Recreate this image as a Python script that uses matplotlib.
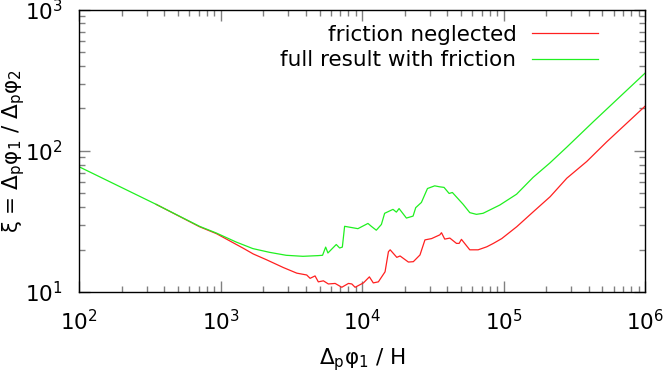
import matplotlib
matplotlib.use('Agg')
import matplotlib.pyplot as plt
from matplotlib.ticker import LogLocator, NullFormatter

# friction neglected (red)
red_x = [349, 708, 933, 1445, 1698, 2113, 2773, 3451, 4055, 4285, 4645, 4898, 5321,
         5768, 6442, 7178, 8000, 8453, 8913, 10210, 11250, 11990, 13020, 14520, 15340,
         15780, 17580, 18540, 21230, 23010, 25640, 27800, 30970, 35400, 36390, 38370,
         41690, 46450, 48500, 50350, 57680, 66070, 76030, 84720, 97050, 123900, 162600,
         213300, 280000, 387000, 537000, 1000000]
red_y = [41.8, 29.0, 25.9, 20.4, 18.6, 16.9, 14.9, 13.6, 13.2, 12.5, 13.0, 11.8, 12.0,
         11.4, 11.5, 10.8, 11.5, 11.4, 10.8, 11.6, 12.8, 11.6, 11.8, 13.9, 19.3,
         19.9, 17.6, 18.0, 16.3, 16.4, 18.3, 23.4, 23.9, 25.4, 26.3, 23.7,
         24.1, 22.1, 22.1, 23.6, 19.9, 19.9, 20.9, 22.1, 23.9, 29.0, 37.1,
         47.3, 64.0, 84.0, 116.0, 207.0]

# full result with friction (green)
green_x = [100, 349, 708, 929, 1285, 1687, 2213, 2904, 3811, 4864, 5248, 5521, 5728,
           6561, 6934, 7244, 7516, 9333, 10990, 11610, 12590, 13680, 14420, 16520,
           17460, 18240, 20560, 22910, 23930, 26240, 28970, 32580, 35400, 37930,
           41210, 43450, 51760, 57680, 64270, 71610, 93970, 123600, 161800, 212300,
           279300, 431500, 1000000]
green_y = [77.0, 41.8, 29.2, 26.2, 22.6, 20.3, 19.1, 18.2, 17.9, 18.1, 18.2, 20.8, 18.9,
           21.7, 20.5, 20.8, 29.2, 28.1, 30.6, 29.2, 27.4, 30.1, 36.1, 38.5,
           36.8, 39.0, 33.4, 34.5, 39.6, 43.1, 54.1, 56.5, 55.6, 55.1,
           49.9, 50.7, 41.8, 36.5, 35.5, 36.1, 41.3, 49.3, 64.9, 82.0,
           106.0, 161.0, 355.0]

plt.rcParams['mathtext.default'] = 'regular'
fs = 15.5

fig = plt.figure(figsize=(6.64, 3.74), dpi=100)
ax = fig.add_axes([79.3 / 664, 1 - 292 / 374, (645 - 79.3) / 664, (292 - 9.7) / 374])

ax.plot(red_x, red_y, color='#ff2020', lw=0.9, label='friction neglected')
ax.plot(green_x, green_y, color='#20f020', lw=0.9, label='full result with friction')

ax.set_xscale('log')
ax.set_yscale('log')
ax.set_xlim(1e2, 1e6)
ax.set_ylim(1e1, 1e3)

for a in (ax.xaxis, ax.yaxis):
    a.set_major_locator(LogLocator(base=10, numticks=10))
    a.set_minor_locator(LogLocator(base=10, subs=range(2, 10), numticks=10))
    a.set_minor_formatter(NullFormatter())
ax.tick_params(which='both', direction='in', top=True, right=True, color='#808080',
               labelsize=fs)
ax.tick_params(which='major', length=8, width=1, pad=12)
ax.tick_params(which='minor', length=4.5, width=1)
for s in ax.spines.values():
    s.set_linewidth(1)

ax.set_xlabel('$Δ_pφ_1$ / H', fontsize=fs, labelpad=9)
ax.set_ylabel('ξ = $Δ_pφ_1$ / $Δ_pφ_2$', fontsize=fs)
ax.yaxis.set_label_coords(-0.093, 0.5)

ax.legend(loc='upper right', frameon=False, markerfirst=False, fontsize=fs,
          handlelength=3.1, handletextpad=0.7, labelspacing=0.25,
          borderaxespad=0.3, bbox_to_anchor=(0.944, 1.0))

fig.savefig('out.png', dpi=100)
